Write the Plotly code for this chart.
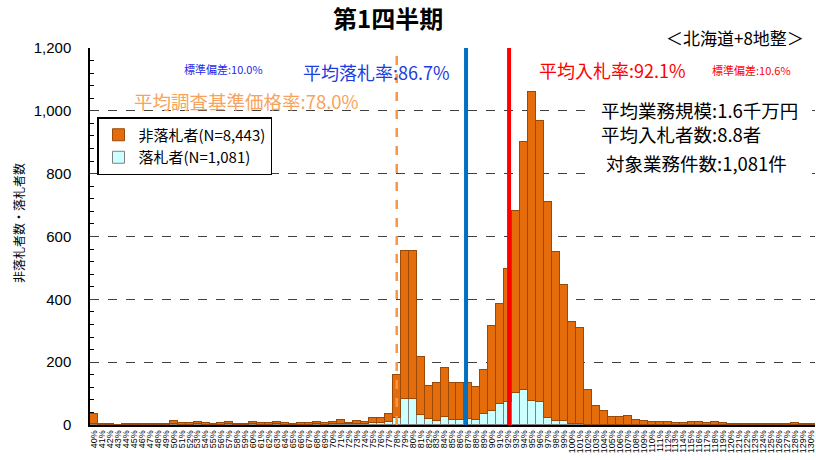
import plotly.graph_objects as go

# Bid-rate classes (%), one bar per 1% step
rates = list(range(40, 131))
tick_labels = [f"{r}%" for r in rates]

# Non-winning bidders per class (upper, orange segment)
non_winners = (
    [33, 2, 3, 1, 3, 3, 2, 3, 2, 3]              # 40-49
    + [10, 4, 4, 6, 4, 2, 4, 6, 2, 2]            # 50-59
    + [7, 4, 4, 6, 4, 3, 4, 4, 7, 4]             # 60-69
    + [7, 13, 5, 11, 8, 17, 17, 27, 138, 472]    # 70-79
    + [472, 184, 107, 121, 158, 117, 117, 114, 105, 139]  # 80-89
    + [272, 318, 421, 580, 792, 983, 895, 689, 538, 435]  # 90-99
    + [326, 306, 111, 59, 43, 27, 27, 30, 17, 13]          # 100-109
    + [11, 11, 8, 6, 6, 11, 8, 6, 9, 6]                    # 110-119
    + [3, 3, 3, 3, 3, 3, 3, 3, 6, 3, 3]                    # 120-130
)

# Winning bidders per class (lower, light-cyan segment)
winners = (
    [3, 0, 1, 0, 1, 1, 0, 1, 0, 1]
    + [3, 1, 1, 2, 1, 0, 1, 2, 1, 1]
    + [2, 1, 1, 2, 1, 1, 1, 1, 2, 1]
    + [2, 4, 2, 3, 3, 6, 6, 9, 22, 83]
    + [83, 32, 18, 14, 25, 17, 17, 20, 17, 35]
    + [43, 68, 74, 102, 110, 76, 73, 22, 13, 12]
    + [3, 2, 1, 0, 0, 0, 0, 0, 0, 0]
    + [0] * 10
    + [0] * 11
)

series_names = ["非落札者(N=8,443)", "落札者(N=1,081)"]

avg_survey_rate = 78.0   # 平均調査基準価格率
avg_award_rate = 86.7    # 平均落札率
avg_bid_rate = 92.1      # 平均入札率
sd_award = 10.0
sd_bid = 10.6

info_lines = ["平均業務規模:1.6千万円", "平均入札者数:8.8者", "対象業務件数:1,081件"]
region_label = "＜北海道+8地整＞"
title_text = "第1四半期"

W, H = 816, 460
L, R, T, B = 90, 1, 48, 35
PW, PH = W - L - R, H - T - B

def px(x):
    return (x - L) / PW

def py(y):
    return (H - B - y) / PH

JP = "Noto Sans CJK JP"
NUM = "Liberation Sans, Arial"

fig = go.Figure()
fig.add_trace(go.Bar(
    x=rates, y=winners, name=series_names[1],
    marker=dict(color="#CCFFFF", line=dict(color="#808080", width=1)),
))
fig.add_trace(go.Bar(
    x=rates, y=non_winners, name=series_names[0],
    marker=dict(color="#E46C0A", line=dict(color="#9A4A08", width=1)),
))

# Average-rate reference lines
fig.add_shape(type="line", xref="x", yref="y", x0=avg_survey_rate, x1=avg_survey_rate,
              y0=0, y1=1210, line=dict(color="#F79646", width=2.5, dash="dash"))
fig.add_shape(type="line", xref="x", yref="y", x0=avg_award_rate, x1=avg_award_rate,
              y0=0, y1=1210, line=dict(color="#0070C0", width=4))
fig.add_shape(type="line", xref="x", yref="y", x0=avg_bid_rate, x1=avg_bid_rate,
              y0=0, y1=1210, line=dict(color="#FF0000", width=4))

# White panel behind the summary text block
fig.add_shape(type="rect", xref="paper", yref="paper",
              x0=px(594), x1=px(812), y0=py(178), y1=py(96),
              fillcolor="white", line=dict(width=0), layer="above")

ann = []
def text(x, y, s, size, color="black", xanchor="left", family=JP, bold=False):
    ann.append(dict(x=px(x), y=py(y), xref="paper", yref="paper", text=f"<b>{s}</b>" if bold else s,
                    showarrow=False, xanchor=xanchor, yanchor="middle",
                    font=dict(family=family, size=size, color=color)))

text(388, 18, title_text, 24, xanchor="center", bold=True)
text(806, 38, region_label, 17, xanchor="right")
text(182, 69, f"標準偏差:{sd_award:.1f}%", 11, color="#2828E6")
text(301, 72, f"平均落札率:{avg_award_rate:.1f}%", 18, color="#1C3CE0")
text(132, 101, f"平均調査基準価格率:{avg_survey_rate:.1f}%", 18.5, color="#F7A35C")
text(537, 70, f"平均入札率:{avg_bid_rate:.1f}%", 18, color="#FF0000")
text(710, 70, f"標準偏差:{sd_bid:.1f}%", 11, color="#FF0000")
text(599, 110, info_lines[0], 18.5)
text(599, 134, info_lines[1], 18.5)
text(604, 163, info_lines[2], 18.5)
ann.append(dict(x=px(18), y=py(223), xref="paper", yref="paper",
                text="非落札者数・落札者数", textangle=-90, showarrow=False,
                xanchor="center", yanchor="middle",
                font=dict(family=JP, size=12, color="black")))

fig.update_layout(
    width=W, height=H,
    margin=dict(l=L, r=R, t=T, b=B, pad=0),
    paper_bgcolor="white", plot_bgcolor="white",
    barmode="stack", bargap=0,
    showlegend=True,
    legend=dict(x=px(97), y=py(117), xanchor="left", yanchor="top",
                traceorder="reversed", bgcolor="white",
                bordercolor="black", borderwidth=1.5,
                font=dict(family=JP, size=15, color="black"),
                itemwidth=30, tracegroupgap=0),
    annotations=ann,
    xaxis=dict(
        range=[39.5, 130.5], tickmode="array", tickvals=rates, ticktext=tick_labels,
        tickangle=-90, tickfont=dict(family=NUM, size=9, color="black"),
        showline=True, linecolor="black", linewidth=1.5, ticks="",
        showgrid=False, zeroline=False,
    ),
    yaxis=dict(
        range=[0, 1200], tickmode="linear", tick0=0, dtick=200, tickformat=",d",
        tickfont=dict(family=NUM, size=15, color="black"),
        ticklabelstandoff=14,
        showline=True, linecolor="black", linewidth=1.5,
        showgrid=True, gridcolor="#404040", griddash="dash", gridwidth=1,
        zeroline=False,
        minor=dict(dtick=40, ticks="inside", ticklen=4, tickcolor="black", showgrid=False),
    ),
)

fig.write_html("out.html")
